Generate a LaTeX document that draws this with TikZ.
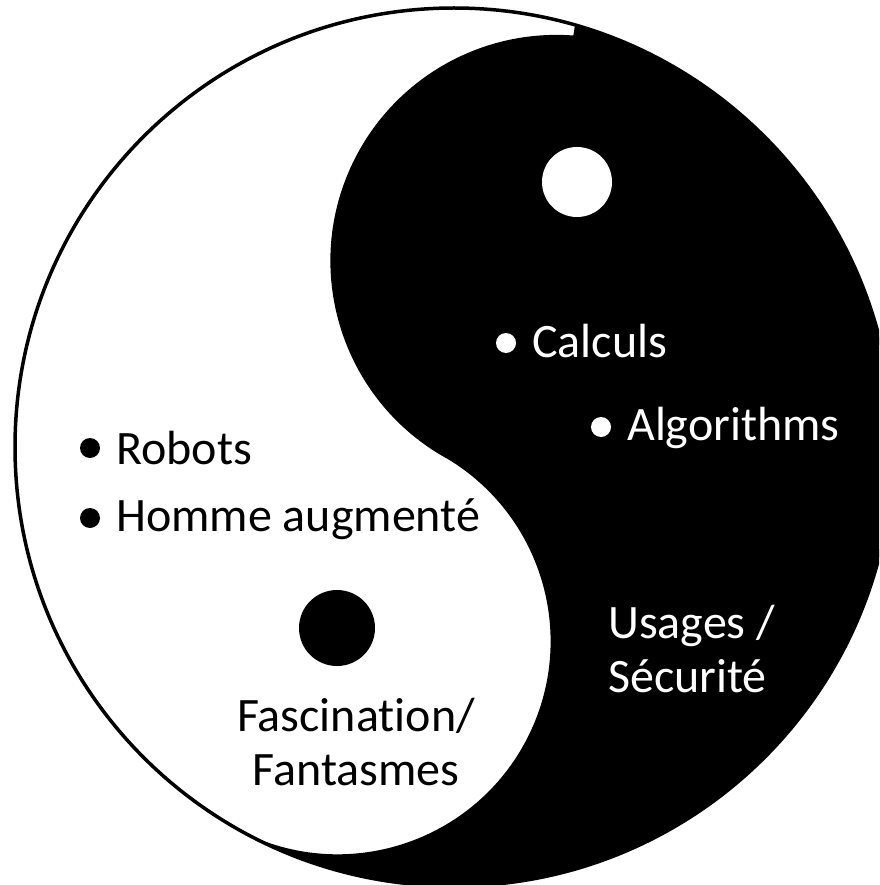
\documentclass[tikz,border=0pt]{standalone}
\usepackage{fontspec}
\setmainfont{Carlito}[Ligatures=NoCommon]
\usetikzlibrary{positioning, calc}

\begin{document}
\begin{tikzpicture}[
        x=1pt, y=-1pt,
        texte/.style={inner sep=0pt, font=\fontsize{48}{54}\selectfont},
        puce/.style={circle, inner sep=0pt, minimum size=20pt, fill=#1},
        oeil/.style={circle, inner sep=0pt, fill=#1}
    ]
        \useasboundingbox (0,0) rectangle (879,885);
        \clip (0,0) rectangle (879,885);
        \fill[white] (0,0) rectangle (879,885);

        % Cercle extérieur et moitié noire
        \coordinate (O) at (454,447);
        \draw[line width=3.5pt] (O) circle[radius=439];
        \fill[black] ($(O)+(-74:439)$) arc[start angle=-74, end angle=118.3, radius=439]
            arc[start angle=115.5, end angle=-58.6, radius=213]
            arc[start angle=118.5, end angle=274.3, radius=226] -- cycle;

        % Les deux yeux
        \node [oeil=white, minimum size=70pt] (oeilblanc) at (577,182) {};
        \node [oeil=black, minimum size=76pt] (oeilnoir) at (337,628) {};

        % Partie noire
        \node [puce=white] (pcalc) at (506,343) {};
        \node [texte, text=white, anchor=base west] (calc) at (532,357) {Calculs};
        \node [puce=white] (palgo) at (601,427) {};
        \node [texte, text=white, anchor=base west] (algo) at (627,440) {Algorithms};
        \node [texte, text=white, anchor=base west, align=left] (usages) at (608,692) {Usages /\\Sécurité};

        % Partie blanche
        \node [puce=black] (probots) at (90,448) {};
        \node [texte, anchor=base west] (robots) at (116,464) {Robots};
        \node [puce=black] (phomme) at (90,518) {};
        \node [texte, anchor=base west] (homme) at (116,531) {Homme augmenté};
        \node [texte, anchor=base, align=center] (fasc) at (356,785) {Fascination/\\Fantasmes};
    \end{tikzpicture}
\end{document}
